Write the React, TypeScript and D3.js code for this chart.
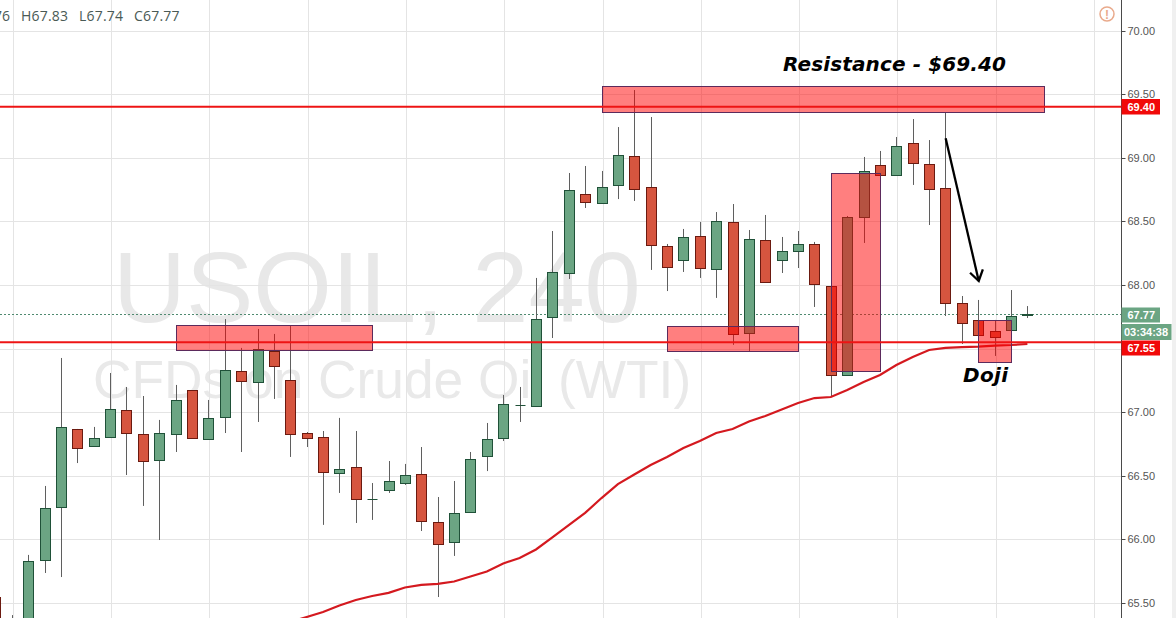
import React from "react";
import * as d3 from "d3";

const firstIndex = -2;
const opens = [65.55,65.2,65.3,65.838,66.255,66.868,66.734,66.805,67.017,66.829,66.624,66.829,67.174,66.789,66.962,67.324,67.238,67.481,67.253,66.836,66.805,66.522,66.569,66.318,66.388,66.443,66.514,66.137,65.98,66.215,66.655,66.797,67.057,67.049,67.748,68.094,68.715,68.644,68.786,69.014,68.77,68.306,68.196,68.385,68.125,68.495,67.623,68.353,68.196,68.267,68.322,67.992,67.293,68.534,68.943,68.864,69.116,68.951,68.762,67.858,67.725,67.638,67.646,67.76];
const highs = [65.55,65.405,65.878,66.42,67.426,66.868,66.884,67.308,67.198,67.127,66.939,67.214,67.174,67.096,67.732,67.505,67.654,67.615,67.677,66.844,66.852,66.955,66.852,66.443,66.616,66.593,66.726,66.333,66.459,66.687,66.915,67.135,67.198,68.055,68.424,68.88,68.935,68.896,69.241,69.532,69.32,68.322,68.44,68.495,68.573,68.636,68.432,68.55,68.377,68.424,68.338,67.992,68.542,69.006,69.053,69.163,69.304,69.139,69.352,67.913,67.882,67.725,67.96,67.834];
const lows = [65.0,65.0,65.2,65.736,65.704,66.6,66.734,66.797,66.506,66.263,65.995,66.687,66.797,66.789,66.836,66.687,66.923,67.104,66.648,66.726,66.114,66.365,66.129,66.153,66.365,66.428,66.066,65.547,65.87,66.215,66.537,66.773,66.923,67.049,67.583,68.047,68.605,68.644,68.675,68.66,68.118,67.952,68.102,68.055,67.898,67.529,67.481,68.023,68.094,68.133,67.827,67.119,67.293,68.33,68.864,68.864,68.786,68.471,67.756,67.536,67.607,67.442,67.646,67.74];
const closes = [65.1,65.3,65.83,66.247,66.884,66.718,66.797,67.025,66.836,66.616,66.836,67.096,66.797,66.955,67.332,67.245,67.497,67.363,66.829,66.797,66.53,66.553,66.318,66.318,66.459,66.506,66.145,65.964,66.208,66.632,66.789,67.064,67.057,67.732,68.102,68.746,68.652,68.77,69.021,68.754,68.314,68.141,68.377,68.133,68.503,67.615,68.361,68.023,68.267,68.322,68.007,67.293,68.534,68.896,68.864,69.092,68.959,68.754,67.858,67.701,67.607,67.591,67.756,67.77];

const maStartIndex = 16;
const maValues = [65.351,65.39,65.429,65.481,65.524,65.555,65.58,65.622,65.642,65.65,65.669,65.708,65.748,65.811,65.854,65.921,66.015,66.113,66.208,66.325,66.435,66.51,66.585,66.648,66.718,66.773,66.836,66.868,66.927,66.97,67.021,67.072,67.111,67.119,67.174,67.237,67.292,67.371,67.434,67.489,67.505,67.512,67.515,67.523,67.528,67.536];

const priceTicks = [70,69.5,69,68.5,68,67.5,67,66.5,66,65.5];
const gridIndexes = [-1,5,11,17,23,29,35,41,47,53,59,65];

// zones: [from index, to index, top price, bottom price]
const zones: [number,number,number,number][] = [
  [35.03,62.03,69.561,69.357],
  [9.0,20.97,67.683,67.486],
  [39.0,46.97,67.675,67.481],
  [49.03,52.03,68.878,67.321],
  [58.0,59.97,67.722,67.392],
];
const supportLevels = [69.4,67.55];
const lastPrice = 67.77;
const arrowShaft: [number,number][] = [[56.01,69.153],[58.03,68.031]];
const arrowHead: [number,number][] = [[57.5,68.096],[58.03,68.031],[58.28,68.123]];

const W = 1176, H = 618, AXIS = 1121.5;
const x = d3.scaleLinear().domain([0,61]).range([28.2,1027.4]);
const y = d3.scaleLinear().domain([65.5,70]).range([603,30.5]);

const UP = "#6ba583", UPB = "#1f5138", DN = "#d6553f", DNB = "#6b1a10", WICK = "#5f5f5f";
const SANS = "'Liberation Sans', Arial, sans-serif";
const px = (v: number) => Math.round(v) + 0.5;

export default function App() {
  const line = d3.line<number>().x((_, i) => x(maStartIndex + i)).y(d => y(d));
  const arrowLine = d3.line<[number,number]>().x(d => x(d[0])).y(d => y(d[1]));
  return (
    <svg width={W} height={H} viewBox={`0 0 ${W} ${H}`} style={{position:"absolute",left:0,top:0,display:"block",background:"#fff"}}>
      <text x={113} y={322} fontFamily={SANS} fontSize={101} fill="#e8e8e8">USOIL, 240</text>
      <text x={93} y={398} fontFamily={SANS} fontSize={53.3} fill="#e9e9e9">CFDs on Crude Oil (WTI)</text>

      {gridIndexes.map(i => <line key={i} x1={px(x(i)+1)} x2={px(x(i)+1)} y1={0} y2={H} stroke="#e4e4e4" strokeWidth={1}/>)}
      {priceTicks.map(t => <line key={t} x1={0} x2={AXIS} y1={px(y(t))} y2={px(y(t))} stroke="#e4e4e4" strokeWidth={1}/>)}

      <line x1={0} x2={AXIS} y1={px(y(lastPrice))} y2={px(y(lastPrice))} stroke="#4f8a70" strokeWidth={1} strokeDasharray="2 2"/>

      {opens.map((o, k) => {
        const i = firstIndex + k, c = closes[k], up = c >= o;
        const cx = px(x(i));
        const top = Math.round(y(Math.max(o,c))) + 0.5;
        const bot = Math.round(y(Math.min(o,c))) + 0.5;
        return (
          <g key={k}>
            <line x1={cx} x2={cx} y1={y(highs[k])} y2={y(lows[k])} stroke={WICK} strokeWidth={1}/>
            {bot - top < 1
              ? <line x1={cx-5} x2={cx+5} y1={top} y2={top} stroke={UPB} strokeWidth={1}/>
              : <rect x={cx-5} y={top} width={10} height={bot-top} fill={up?UP:DN} stroke={up?UPB:DNB} strokeWidth={1}/>}
          </g>
        );
      })}

      <path d={line(maValues) ?? ""} fill="none" stroke="#d4191f" strokeWidth={2.2}/>

      {zones.map((z, k) => {
        const x0 = px(x(z[0])), x1 = px(x(z[1])), y0 = px(y(z[2])), y1 = px(y(z[3]));
        return <g key={k}>
          <rect x={x0} y={y0} width={x1-x0} height={y1-y0} fill="#ff0000" fillOpacity={0.5}/>
          <rect x={x0} y={y0} width={x1-x0} height={y1-y0} fill="none" stroke="#5b2a5c" strokeWidth={1}/>
        </g>;
      })}

      {supportLevels.map(l => <line key={l} x1={0} x2={AXIS} y1={y(l)} y2={y(l)} stroke="#ee1414" strokeWidth={2}/>)}

      <path d={arrowLine(arrowShaft) ?? ""} fill="none" stroke="#000" strokeWidth={2.3}/>
      <path d={arrowLine(arrowHead) ?? ""} fill="none" stroke="#000" strokeWidth={2.3}/>

      <text x={783} y={71} fontFamily="'DejaVu Sans'" fontWeight="bold" fontStyle="italic" fontSize={20} fill="#000" textLength={223} lengthAdjust="spacing">Resistance - $69.40</text>
      <text x={963} y={382} fontFamily="'DejaVu Sans'" fontWeight="bold" fontStyle="italic" fontSize={20} fill="#000" textLength={45} lengthAdjust="spacing">Doji</text>

      <text x={10} y={21} textAnchor="end" fontFamily="'Open Sans'" fontSize={14} fill="#4a5a55">O67.76</text>
      <text x={21} y={21} fontFamily="'Open Sans'" fontSize={14} fill="#4a5a55" letterSpacing={0.2}>H67.83</text>
      <text x={79} y={21} fontFamily="'Open Sans'" fontSize={14} fill="#4a5a55" letterSpacing={0.2}>L67.74</text>
      <text x={134} y={21} fontFamily="'Open Sans'" fontSize={14} fill="#4a5a55" letterSpacing={0.2}>C67.77</text>

      <circle cx={1107} cy={14} r={7} fill="#fff" stroke="#e9aa8c" strokeWidth={1.5}/>
      <text x={1107} y={18.5} textAnchor="middle" fontFamily={SANS} fontWeight="bold" fontSize={12} fill="#e9aa8c">!</text>

      <rect x={1172} y={0} width={4} height={H} fill="#f0f0f0"/>
      <line x1={AXIS} x2={AXIS} y1={0} y2={H} stroke="#4a4a4a" strokeWidth={1}/>
      {priceTicks.map(t => (
        <g key={t}>
          <line x1={AXIS} x2={AXIS+4} y1={px(y(t))} y2={px(y(t))} stroke="#4a4a4a" strokeWidth={1}/>
          <text x={1127.5} y={y(t)+4} fontFamily={SANS} fontSize={11} fill="#555">{t.toFixed(2)}</text>
        </g>
      ))}

      <rect x={AXIS} y={99} width={38.5} height={15.5} fill="#f10909"/>
      <text x={1127.5} y={111} fontFamily={SANS} fontWeight="bold" fontSize={11} fill="#fff">69.40</text>

      <rect x={AXIS} y={307.5} width={38.5} height={15} fill="#6ba583"/>
      <text x={1127.5} y={319} fontFamily={SANS} fontWeight="bold" fontSize={11} fill="#fff">67.77</text>
      <rect x={AXIS} y={324} width={50} height={16} fill="#6ba583"/>
      <text x={1124} y={336} fontFamily={SANS} fontWeight="bold" fontSize={11} fill="#fff">03:34:38</text>
      <rect x={AXIS} y={340.5} width={38.5} height={15} fill="#f10909"/>
      <text x={1127.5} y={352} fontFamily={SANS} fontWeight="bold" fontSize={11} fill="#fff">67.55</text>
    </svg>
  );
}
